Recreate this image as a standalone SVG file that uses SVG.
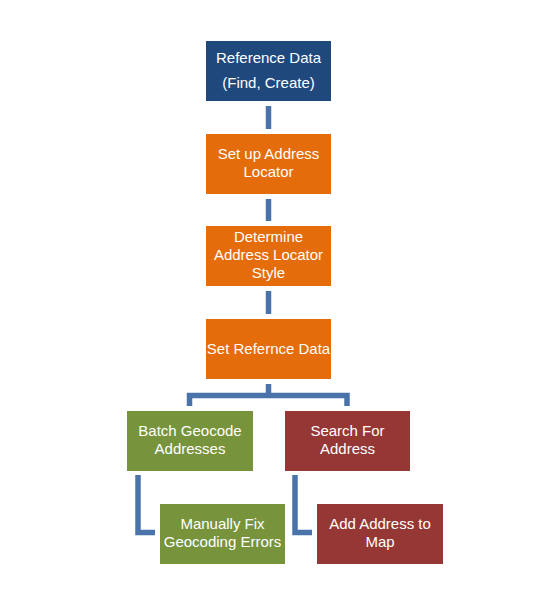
<svg xmlns="http://www.w3.org/2000/svg" width="549" height="607" viewBox="0 0 549 607">
<style>
.lbl{font-family:"Liberation Sans",Arial,sans-serif;font-size:15px;fill:#ffffff;text-anchor:middle}
.con{fill:none;stroke:#4A73AA;stroke-width:5.5;stroke-linejoin:miter}
.blue{fill:#1F497D}
.orange{fill:#E46C0A}
.green{fill:#77933C}
.red{fill:#953735}
</style>
<rect width="549" height="607" fill="#ffffff"/>
<g id="connectors">
<path class="con" d="M268.5 106 V129"/>
<path class="con" d="M268.5 199 V221"/>
<path class="con" d="M268.5 291 V314"/>
<path class="con" d="M268.5 384 V395.5 M189.5 406 V395.5 H347 V406"/>
<path class="con" d="M138 475 V532.5 H155"/>
<path class="con" d="M295 475 V532.5 H312"/>
</g>
<g id="n1">
<rect class="blue" x="206" y="41" width="125" height="60"/>
<text class="lbl" x="268.5" y="63">Reference Data</text>
<text class="lbl" x="268.5" y="88">(Find, Create)</text>
</g>
<g id="n2">
<rect class="orange" x="206" y="134" width="125" height="60"/>
<text class="lbl" x="268.5" y="159">Set up Address</text>
<text class="lbl" x="268.5" y="177">Locator</text>
</g>
<g id="n3">
<rect class="orange" x="206" y="226" width="125" height="60"/>
<text class="lbl" x="268.5" y="242">Determine</text>
<text class="lbl" x="268.5" y="260">Address Locator</text>
<text class="lbl" x="268.5" y="278">Style</text>
</g>
<g id="n4">
<rect class="orange" x="206" y="319" width="125" height="60"/>
<text class="lbl" x="268.5" y="354">Set Refernce Data</text>
</g>
<g id="n5">
<rect class="green" x="127" y="411" width="126" height="60"/>
<text class="lbl" x="190" y="436">Batch Geocode</text>
<text class="lbl" x="190" y="454">Addresses</text>
</g>
<g id="n6">
<rect class="red" x="285" y="411" width="125" height="60"/>
<text class="lbl" x="347.5" y="436">Search For</text>
<text class="lbl" x="347.5" y="454">Address</text>
</g>
<g id="n7">
<rect class="green" x="160" y="504" width="125" height="60"/>
<text class="lbl" x="222.5" y="529">Manually Fix</text>
<text class="lbl" x="222.5" y="547">Geocoding Errors</text>
</g>
<g id="n8">
<rect class="red" x="317" y="504" width="126" height="60"/>
<text class="lbl" x="380" y="529">Add Address to</text>
<text class="lbl" x="380" y="547">Map</text>
</g>
</svg>
